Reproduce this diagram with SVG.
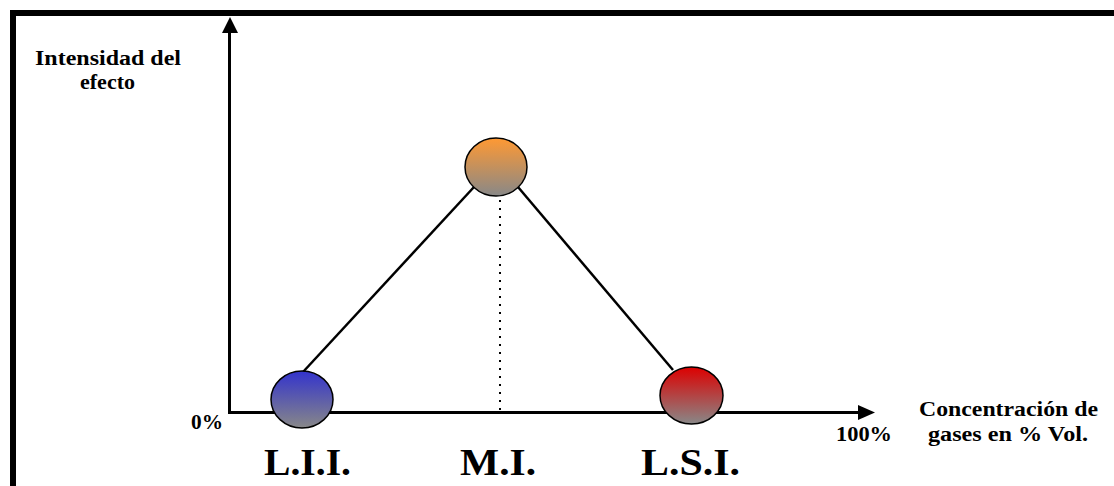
<svg xmlns="http://www.w3.org/2000/svg" width="1114" height="486" viewBox="0 0 1114 486">
  <style>
    .lbl { font-family: "Liberation Serif", "Times New Roman", serif; font-weight: bold; fill: #000; }
    .small { font-size: 20px; }
    .big { font-size: 38px; }
    .node { stroke: #000; stroke-width: 1.5; }
    .edge { stroke: #000; stroke-width: 2.5; fill: none; }
    .axis { stroke: #000; stroke-width: 3; fill: none; }
  </style>
  <defs>
    <linearGradient id="gBlue" x1="0" y1="0" x2="0" y2="1">
      <stop offset="0" stop-color="#3333CC"/>
      <stop offset="1" stop-color="#888888"/>
    </linearGradient>
    <linearGradient id="gOrange" x1="0" y1="0" x2="0" y2="1">
      <stop offset="0" stop-color="#FF9933"/>
      <stop offset="1" stop-color="#888888"/>
    </linearGradient>
    <linearGradient id="gRed" x1="0" y1="0" x2="0" y2="1">
      <stop offset="0" stop-color="#DD0000"/>
      <stop offset="1" stop-color="#888888"/>
    </linearGradient>
  </defs>
  <rect width="1114" height="486" fill="#fff"/>
  <path d="M13,486 V13 H1114" fill="none" stroke="#000" stroke-width="6"/>

  <g id="axes">
    <line class="axis" x1="229.5" y1="30" x2="229.5" y2="412.5"/>
    <polygon points="230,17 222,33 238,33" fill="#000"/>
    <line class="axis" x1="228" y1="412.5" x2="860" y2="412.5"/>
    <polygon points="875,412.5 858,405 858,420" fill="#000"/>
  </g>

  <g id="connectors">
    <line class="edge" x1="303" y1="372" x2="474" y2="187"/>
    <line class="edge" x1="518" y1="187" x2="673" y2="370"/>
    <line x1="500" y1="200" x2="500" y2="410" stroke="#000" stroke-width="2" stroke-dasharray="2 6"/>
  </g>

  <g id="node-lii">
    <ellipse class="node" cx="302" cy="399.5" rx="31" ry="28.5" fill="url(#gBlue)"/>
  </g>
  <g id="node-mi">
    <ellipse class="node" cx="496" cy="167" rx="31" ry="29" fill="url(#gOrange)"/>
  </g>
  <g id="node-lsi">
    <ellipse class="node" cx="691.5" cy="395.5" rx="31.5" ry="28.5" fill="url(#gRed)"/>
  </g>

  <g id="labels">
    <text class="lbl small" x="35" y="65" textLength="146" lengthAdjust="spacingAndGlyphs">Intensidad del</text>
    <text class="lbl small" x="80" y="89" textLength="55" lengthAdjust="spacingAndGlyphs">efecto</text>
    <text class="lbl small" x="191" y="429" textLength="32" lengthAdjust="spacingAndGlyphs">0%</text>
    <text class="lbl small" x="836" y="441" textLength="56" lengthAdjust="spacingAndGlyphs">100%</text>
    <text class="lbl small" x="919" y="416" textLength="179" lengthAdjust="spacingAndGlyphs">Concentración de</text>
    <text class="lbl small" x="928" y="441" textLength="160" lengthAdjust="spacingAndGlyphs">gases en % Vol.</text>
    <text class="lbl big" x="264" y="475" textLength="87" lengthAdjust="spacingAndGlyphs">L.I.I.</text>
    <text class="lbl big" x="460" y="475" textLength="76" lengthAdjust="spacingAndGlyphs">M.I.</text>
    <text class="lbl big" x="641" y="475" textLength="99" lengthAdjust="spacingAndGlyphs">L.S.I.</text>
  </g>
</svg>
